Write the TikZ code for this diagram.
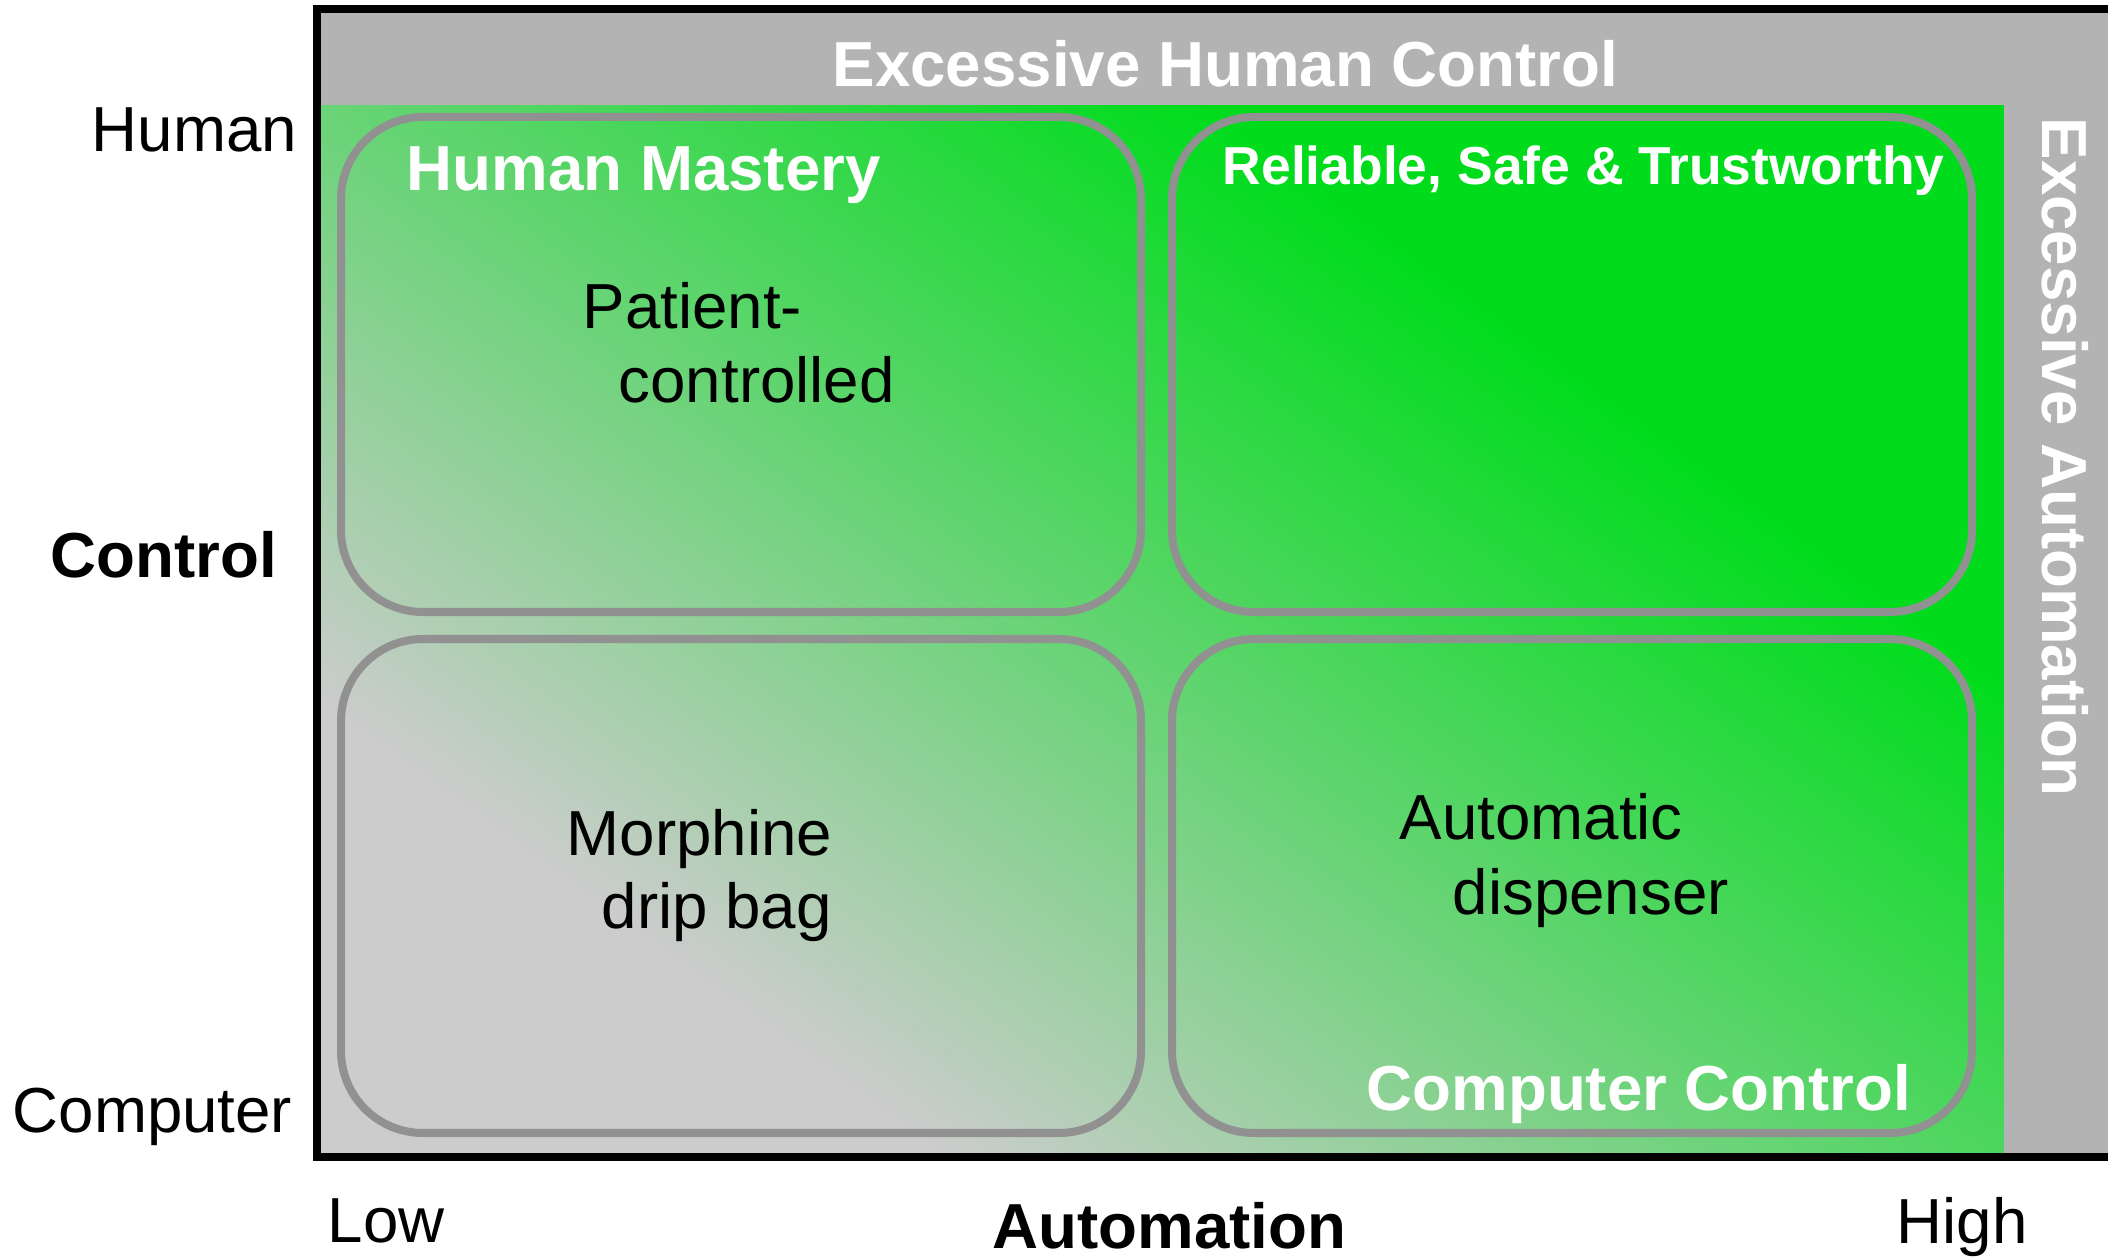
\documentclass[tikz,border=0pt]{standalone}
\usepackage{fontspec}
\setmainfont{Liberation Sans}
\definecolor{bandgray}{RGB}{179,179,179}
\definecolor{fillgray}{RGB}{204,204,204}
\definecolor{fillgreen}{RGB}{0,220,28}
\definecolor{boxgray}{RGB}{145,145,145}
\pgfdeclareverticalshading{graygreen}{100bp}{color(0bp)=(fillgray); color(29bp)=(fillgray); color(67bp)=(fillgreen); color(100bp)=(fillgreen)}

\begin{document}
\begin{tikzpicture}[x=0.01cm, y=-0.01cm,
    lbl/.style={font=\fontsize{18.1}{21}\selectfont, inner sep=0pt, anchor=base west},
    axis/.style={lbl, font=\fontsize{18.1}{21}\selectfont\bfseries},
    hdr/.style={lbl, font=\fontsize{18.1}{21}\selectfont\bfseries, text=white},
    quad/.style={draw=boxgray, line width=0.08cm, rounded corners=0.82cm}]
    \useasboundingbox (0,0) rectangle (2108,1258);
    % background
    \shade[shading=graygreen, shading angle=-36] (317,105) rectangle (2004,1157);
    \fill[bandgray] (317,9) rectangle (2108,105);
    \fill[bandgray] (2004,9) rectangle (2108,1157);
    \draw[line width=0.085cm] (2130,9) -- (317,9) -- (317,1157) -- (2130,1157);
    % quadrants
    \draw[quad] (341,117) rectangle (1141,612);
    \draw[quad] (1172,117) rectangle (1972,612);
    \draw[quad] (341,639) rectangle (1141,1133);
    \draw[quad] (1172,639) rectangle (1972,1133);
    % axes
    \node[lbl] (human) at (91,152) {Human};
    \node[axis] (control) at (50,578) {Control};
    \node[lbl] (computer) at (12,1132) {Computer};
    \node[lbl] (low) at (327,1242) {Low};
    \node[axis] (automation) at (992,1248) {Automation};
    \node[lbl] (high) at (1896,1243) {High};
    % headings
    \node[hdr] (exhuman) at (832,87) {Excessive Human Control};
    \node[hdr, rotate=-90] (exauto) at (2042,117) {Excessive Automation};
    \node[hdr] (mastery) at (406,191) {Human Mastery};
    \node[hdr, font=\fontsize{15.2}{18}\selectfont\bfseries] (reliable) at (1222,185) {Reliable, Safe \& Trustworthy};
    \node[hdr] (compctl) at (1366,1110) {Computer Control};
    % examples
    \node[lbl] (patientA) at (582,329) {Patient-};
    \node[lbl] (patientB) at (618,403) {controlled};
    \node[lbl] (morphA) at (566,856) {Morphine};
    \node[lbl] (morphB) at (601,928) {drip bag};
    \node[lbl] (autoA) at (1399,840) {Automatic};
    \node[lbl] (autoB) at (1452,914) {dispenser};
\end{tikzpicture}
\end{document}
